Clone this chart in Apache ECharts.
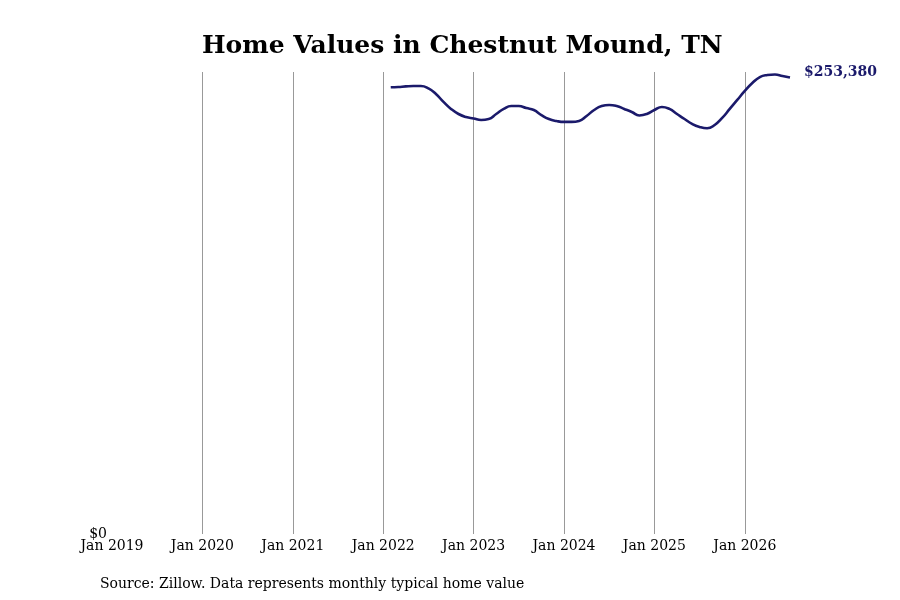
<!DOCTYPE html>
<html>
<head>
<meta charset="utf-8">
<script src="https://cdn.jsdelivr.net/npm/echarts@6/dist/echarts.min.js"></script>
<style>
html,body{margin:0;padding:0;background:#fff;}
#chart{width:900px;height:600px;}
</style>
</head>
<body>
<div id="chart"></div>
<script>
// months counted from Jan 2019 (0 = Jan 2019)
var startMonth = 37; // Feb 2022
var homeValues = [
  247900, 248100, 248400, 248600, 248600, 247300, 244200, 239800, 235900, 233100,
  231400, 230600, 229800, 230300, 233100, 235900, 237500, 237500, 236400, 235300,
  232500, 230300, 229200, 228700, 228700, 229200, 232000, 235300, 237500, 238100,
  237500, 235900, 234200, 232300, 233100, 235300, 237000, 235900, 233100, 230300,
  227600, 225900, 225200, 227000, 230900, 235900, 240900, 245900, 250300, 253600,
  254700, 255000, 254200, 253380
];
var yearLabels = ['Jan 2019','Jan 2020','Jan 2021','Jan 2022','Jan 2023','Jan 2024','Jan 2025','Jan 2026'];
var lastMonth = startMonth + homeValues.length - 1;

var chart = echarts.init(document.getElementById('chart'));

var seriesData = [];
for (var i = 0; i < homeValues.length; i++) {
  seriesData.push([startMonth + i, homeValues[i]]);
}

chart.setOption({
  animation: false,
  backgroundColor: '#fff',
  title: [{
    text: 'Home Values in Chestnut Mound, TN',
    left: 197,
    top: 29,
    textStyle: {fontFamily: 'DejaVu Serif', fontWeight: 'bold', fontSize: 25, color: '#000'}
  }, {
    text: 'Source: Zillow. Data represents monthly typical home value',
    left: 95,
    top: 572,
    textStyle: {fontFamily: 'DejaVu Serif', fontWeight: 'normal', fontSize: 14, color: '#000'}
  }],
  grid: {left: 112, right: 110, top: 72, bottom: 66},
  xAxis: {
    type: 'value',
    min: 0,
    max: lastMonth,
    interval: 12,
    axisLine: {show: false},
    axisTick: {show: false},
    splitLine: {show: true, showMinLine: false, showMaxLine: false, lineStyle: {color: '#999', width: 1}},
    axisLabel: {
      showMaxLabel: false,
      margin: 5,
      fontFamily: 'DejaVu Serif',
      fontSize: 14,
      color: '#000',
      formatter: function (v) {
        if (v % 12 !== 0) return '';
        return yearLabels[v / 12] || '';
      }
    }
  },
  yAxis: {
    type: 'value',
    min: 0,
    max: 256400,
    interval: 256400,
    axisLine: {show: false},
    axisTick: {show: false},
    splitLine: {show: false},
    axisLabel: {
      margin: 5,
      fontFamily: 'DejaVu Serif',
      fontSize: 14,
      color: '#000',
      verticalAlign: 'middle',
      formatter: function (v) { return v === 0 ? '$0' : ''; }
    }
  },
  series: [{
    type: 'line',
    data: seriesData,
    smooth: true,
    showSymbol: false,
    lineStyle: {color: '#1b1a6b', width: 2.6},
    endLabel: {
      show: true,
      offset: [6, -5],
      fontFamily: 'DejaVu Serif',
      fontWeight: 'bold',
      fontSize: 14,
      color: '#1b1a6b',
      formatter: function (p) { return '$' + p.value[1].toLocaleString('en-US'); }
    }
  }]
});
</script>
</body>
</html>
